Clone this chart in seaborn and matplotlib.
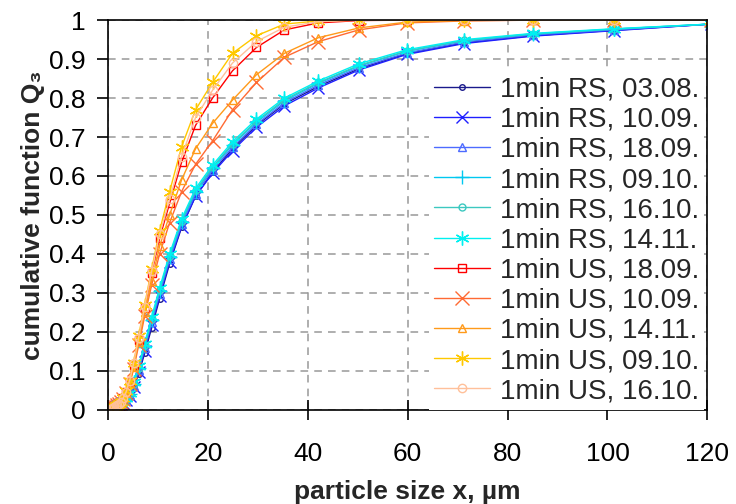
import pandas as pd
import seaborn as sns
import matplotlib.pyplot as plt

# particle size classes (µm)
sizes = [0.6, 0.7, 0.9, 1.0, 1.2, 1.5, 1.8, 2.1, 2.5, 3.0, 3.6, 4.3, 5.1, 6.1, 7.3, 8.7,
         10.3, 12.3, 14.7, 17.5, 20.9, 24.9, 29.7, 35.3, 42.1, 50.2, 59.8, 71.3, 85.0, 101.3, 120.7]

# cumulative Q3 values
rs_0308 = [0.001, 0.002, 0.003, 0.004, 0.005, 0.007, 0.009, 0.011, 0.014, 0.018, 0.024, 0.034, 0.055, 0.092, 0.145, 0.210,
           0.285, 0.375, 0.468, 0.548, 0.610, 0.670, 0.730, 0.785, 0.830, 0.875, 0.914, 0.942, 0.960, 0.974, 0.990]
rs_1009 = [0.001, 0.002, 0.003, 0.004, 0.005, 0.007, 0.009, 0.011, 0.014, 0.018, 0.024, 0.035, 0.058, 0.097, 0.152, 0.218,
           0.292, 0.380, 0.470, 0.548, 0.607, 0.665, 0.725, 0.780, 0.826, 0.872, 0.912, 0.940, 0.959, 0.973, 0.990]
rs_1809 = [0.001, 0.002, 0.003, 0.004, 0.006, 0.008, 0.010, 0.012, 0.015, 0.019, 0.026, 0.038, 0.062, 0.102, 0.158, 0.224,
           0.298, 0.386, 0.476, 0.555, 0.615, 0.674, 0.733, 0.788, 0.834, 0.878, 0.916, 0.944, 0.962, 0.975, 0.990]
rs_0910 = [0.001, 0.002, 0.003, 0.004, 0.006, 0.008, 0.010, 0.013, 0.016, 0.020, 0.027, 0.040, 0.065, 0.106, 0.163, 0.230,
           0.305, 0.392, 0.482, 0.560, 0.620, 0.680, 0.738, 0.793, 0.838, 0.882, 0.920, 0.947, 0.964, 0.977, 0.990]
rs_1610 = [0.001, 0.002, 0.003, 0.004, 0.006, 0.008, 0.010, 0.013, 0.016, 0.021, 0.028, 0.041, 0.066, 0.108, 0.165, 0.232,
           0.307, 0.395, 0.485, 0.563, 0.623, 0.683, 0.741, 0.796, 0.840, 0.884, 0.921, 0.948, 0.965, 0.977, 0.990]
rs_1411 = [0.001, 0.002, 0.003, 0.005, 0.006, 0.008, 0.011, 0.014, 0.017, 0.022, 0.030, 0.044, 0.070, 0.113, 0.170, 0.238,
           0.313, 0.400, 0.490, 0.568, 0.628, 0.688, 0.746, 0.800, 0.844, 0.888, 0.924, 0.950, 0.966, 0.978, 0.990]
us_1809 = [0.002, 0.003, 0.004, 0.005, 0.007, 0.009, 0.012, 0.015, 0.020, 0.030, 0.045, 0.070, 0.115, 0.180, 0.260, 0.350,
           0.440, 0.530, 0.635, 0.730, 0.800, 0.870, 0.930, 0.975, 0.993, 0.999, 1.000, 1.000, 1.000, 1.000, 1.000]
us_1009 = [0.002, 0.003, 0.004, 0.005, 0.006, 0.008, 0.011, 0.014, 0.019, 0.028, 0.042, 0.065, 0.105, 0.165, 0.240, 0.320,
           0.400, 0.480, 0.560, 0.630, 0.690, 0.770, 0.840, 0.905, 0.945, 0.975, 0.993, 0.998, 1.000, 1.000, 1.000]
us_1411 = [0.002, 0.003, 0.004, 0.005, 0.007, 0.009, 0.012, 0.015, 0.020, 0.029, 0.043, 0.068, 0.110, 0.175, 0.250, 0.330,
           0.420, 0.500, 0.590, 0.670, 0.735, 0.795, 0.860, 0.915, 0.955, 0.980, 0.995, 0.999, 1.000, 1.000, 1.000]
us_0910 = [0.002, 0.003, 0.004, 0.005, 0.007, 0.009, 0.012, 0.015, 0.021, 0.031, 0.047, 0.075, 0.120, 0.190, 0.270, 0.360,
           0.460, 0.560, 0.675, 0.770, 0.840, 0.915, 0.960, 0.990, 0.998, 1.000, 1.000, 1.000, 1.000, 1.000, 1.000]
us_1610 = [0.002, 0.003, 0.004, 0.005, 0.007, 0.009, 0.012, 0.015, 0.021, 0.030, 0.046, 0.075, 0.120, 0.185, 0.265, 0.355,
           0.450, 0.540, 0.650, 0.750, 0.820, 0.890, 0.945, 0.982, 0.996, 1.000, 1.000, 1.000, 1.000, 1.000, 1.000]

labels = ["1min RS, 03.08.", "1min RS, 10.09.", "1min RS, 18.09.", "1min RS, 09.10.",
          "1min RS, 16.10.", "1min RS, 14.11.", "1min US, 18.09.", "1min US, 10.09.",
          "1min US, 14.11.", "1min US, 09.10.", "1min US, 16.10."]
series = [rs_0308, rs_1009, rs_1809, rs_0910, rs_1610, rs_1411,
          us_1809, us_1009, us_1411, us_0910, us_1610]

colors = ["#1a1a8c", "#1f1fff", "#4d6bff", "#00c8f0", "#3cc8c0", "#00f0f0",
          "#ff0000", "#ff6a33", "#ff9a1a", "#ffc800", "#ffc09a"]
markers = ["o", "x", "^", "+", "o", (6, 2, 0), "s", "x", "^", (6, 2, 0), "o"]
msizes = [4, 8, 6, 10, 5, 10, 6, 10, 6, 10, 6]

rows = []
for lab, vals in zip(labels, series):
    for x, y in zip(sizes, vals):
        rows.append((lab, x, y))
df = pd.DataFrame(rows, columns=["sample", "size", "Q3"])

sns.set_theme(style="ticks")
plt.rcParams["font.family"] = ["Liberation Sans", "DejaVu Sans"]

fig = plt.figure(figsize=(7.36, 5.04), dpi=100)
ax = fig.add_axes([0.147, 0.187, 0.814, 0.773])

for lab, col, mk, ms in zip(labels, colors, markers, msizes):
    sub = df[df["sample"] == lab]
    sns.lineplot(data=sub, x="size", y="Q3", ax=ax, color=col, marker=mk,
                 markersize=ms, mec=col, mfc="none", mew=1.0, linewidth=1.0,
                 label=lab, estimator=None, sort=False)

ax.set_xlim(0, 120)
ax.set_ylim(0, 1)
ax.set_xticks(range(0, 121, 20))
ax.set_yticks([i / 10 for i in range(11)])
ax.set_yticklabels(["0", "0.1", "0.2", "0.3", "0.4", "0.5", "0.6", "0.7", "0.8", "0.9", "1"])
ax.grid(True, color="#999999", linestyle=(0, (5, 4)), linewidth=1.1)
for s in ax.spines.values():
    s.set_color("black")
    s.set_linewidth(1.2)
ax.tick_params(axis="x", direction="inout", length=14, width=1.2, labelsize=19, pad=16, colors="black")
ax.tick_params(axis="y", direction="out", length=8, width=1.2, labelsize=19, pad=8, colors="black")

ax.set_xlabel("particle size x, µm", fontsize=19, fontweight="bold", labelpad=10)
ax.set_ylabel("cumulative function Q₃", fontsize=19, fontweight="bold", labelpad=3)

leg = ax.legend(loc="lower left", bbox_to_anchor=(0.535, 0.0), fontsize=20,
                frameon=True, facecolor="white", edgecolor="none", framealpha=1,
                handlelength=2.0, handletextpad=0.35, labelspacing=0.15,
                borderpad=0.2, borderaxespad=0.0, fancybox=False)

plt.savefig("out.png", dpi=100)
